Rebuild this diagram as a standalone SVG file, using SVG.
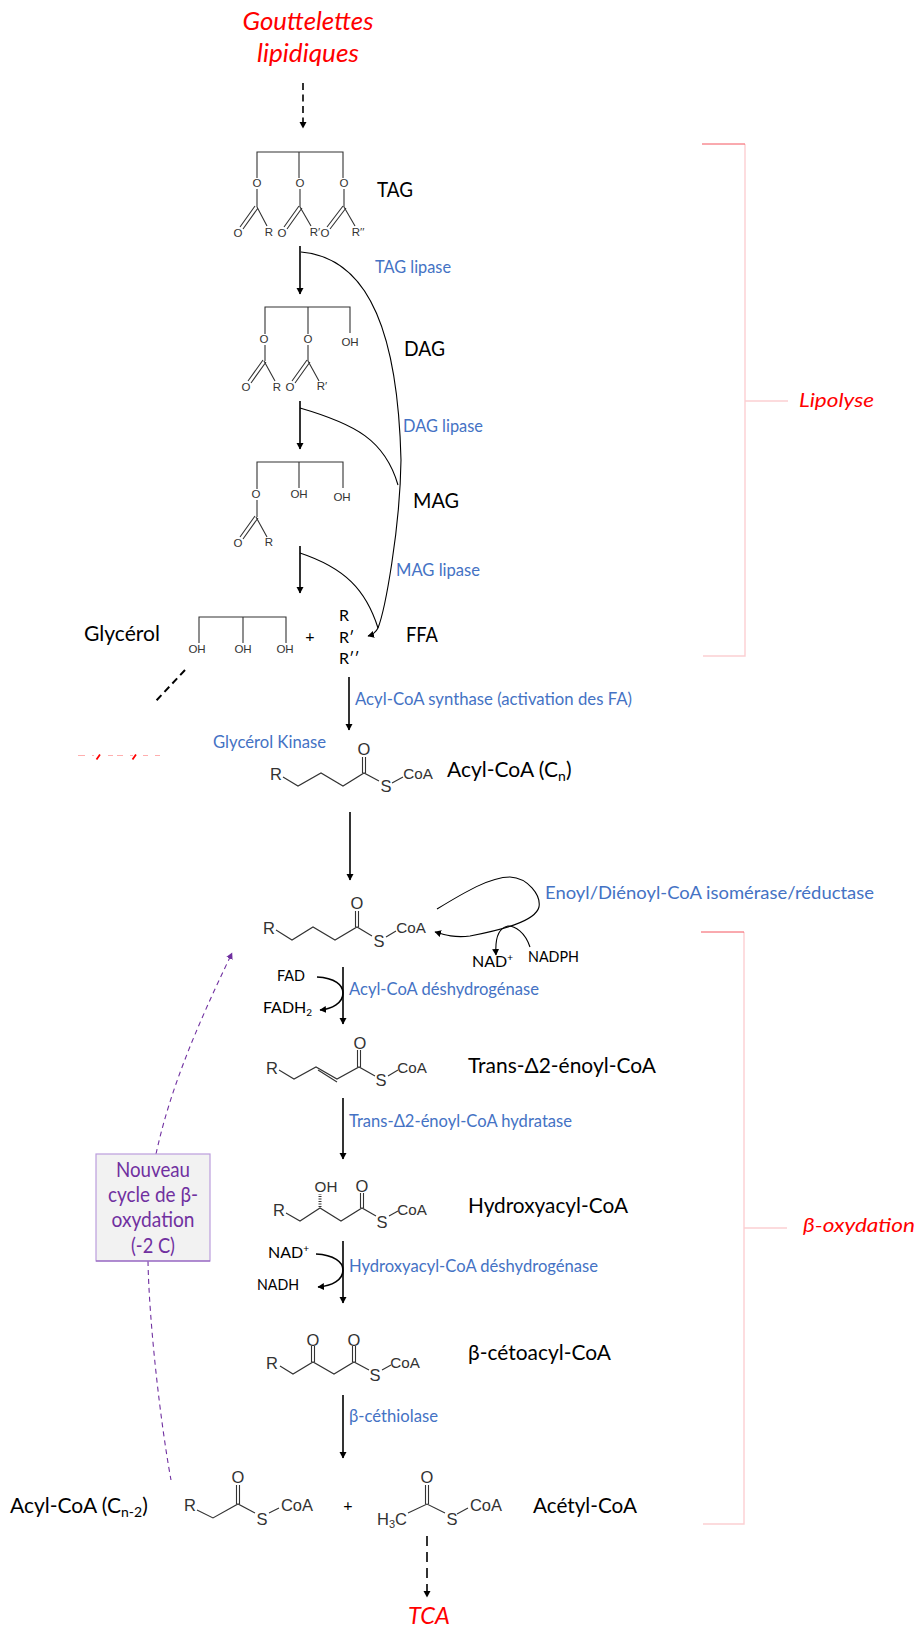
<svg xmlns="http://www.w3.org/2000/svg" width="918" height="1629" viewBox="0 0 918 1629">
<style>
text{font-family:"Lato","Carlito","Liberation Sans",sans-serif}
.lab{font-size:22px;fill:#000}
.enz{font-size:16.5px;fill:#4472c4}
.red{font-style:italic;fill:#f00}
.cof{font-size:16px;fill:#000}
.ch{font-family:"Liberation Sans",Arial,sans-serif;fill:#333;text-anchor:middle}
.s{font-size:11.5px}
.m{font-size:16.5px}
.c{font-size:15.2px}
.l{font-size:16.5px}
.b{fill:none;stroke:#333;stroke-width:1.1}
.bk{fill:none;stroke:#000;stroke-width:1.1}
.a{fill:none;stroke:#000;stroke-width:1.6;marker-end:url(#h)}
.pur{fill:none;stroke:#7030a0;stroke-width:1.1;stroke-dasharray:5 4}
.brk{fill:none;stroke:#fccfd2;stroke-width:1.4}
.brt{fill:none;stroke:#f4555f;stroke-width:1}
.pl{font-size:20.500px;fill:#7030a0;text-anchor:middle}
</style>
<defs>
<marker id="h" markerUnits="userSpaceOnUse" markerWidth="8" markerHeight="8" refX="6" refY="3.500" orient="auto"><path d="M0 0L6.500 3.500L0 7z" fill="#000"/></marker>
<marker id="p" markerUnits="userSpaceOnUse" markerWidth="8" markerHeight="8" refX="6" refY="3.500" orient="auto"><path d="M0 0L6.500 3.500L0 7z" fill="#7030a0"/></marker>
</defs>
<rect width="918" height="1629" fill="#fff"/>

<g id="connectors">
<path class="a" stroke-dasharray="7 4.500" d="M303 83V128"/>
<path class="a" d="M300 246V294"/>
<path class="a" d="M300 401V449"/>
<path class="a" d="M300 546V593"/>
<path class="a" d="M349 677V730"/>
<path class="a" d="M350 812V880"/>
<path class="a" d="M343 967V1024"/>
<path class="a" d="M343 1098V1159"/>
<path class="a" d="M343 1241V1303"/>
<path class="a" d="M343 1395V1458"/>
<path class="a" stroke-width="1.8" stroke-dasharray="10 6" d="M427 1536V1597"/>
<path class="bk" d="M301 252C372 258 398 340 401 460C400 530 385 610 378 628"/>
<path class="bk" d="M300 408C355 424 385 440 398 485"/>
<path class="bk" d="M300 553C345 568 366 590 378 628"/>
<path class="bk" marker-end="url(#h)" d="M378 628Q375 634 368 636"/>
<path class="bk" marker-end="url(#h)" d="M437 909C465 892 490 877 510 877C528 878 541 895 539 907C535 922 500 930 470 936C455 938 445 935 435 932"/>
<path class="bk" marker-end="url(#h)" d="M530 947C525 932 515 926 508 926C498 928 495 940 496 955"/>
<path class="a" stroke-width="2" d="M317 977C335 978 343 985 343 993C343 1003 332 1009 320 1010"/>
<path class="a" stroke-width="2" d="M316 1254C334 1255 343 1262 343 1270C343 1280 332 1286 318 1287"/>
<path fill="none" stroke="#000" stroke-width="2" stroke-dasharray="7 4.500" d="M185 670L155 702"/>
<path class="pur" marker-end="url(#p)" d="M156 1154C170 1090 195 1030 232 953"/>
<path class="pur" d="M148 1261C149 1320 160 1420 171 1480"/>
<path class="brk" d="M745 144V656H703M745 401H788"/>
<path class="brt" d="M702 144H745"/>
<path class="brk" d="M744 932V1524H703M744 1228H787"/>
<path class="brt" d="M701 932H744"/>
</g>

<g id="gouttelettes">
<text class="red" font-size="25" x="308" y="30" text-anchor="middle" textLength="131" lengthAdjust="spacingAndGlyphs">Gouttelettes</text>
<text class="red" font-size="25" x="308" y="62" text-anchor="middle" textLength="102" lengthAdjust="spacingAndGlyphs">lipidiques</text>
</g>

<g id="tag">
<path class="b" d="M257 178V152H343V178M299 152V178M257 189V207M300 189V207M344 189V207M255 206L240 227M258 208L243 229M257 207L267 226M299 206L284 227M302 208L287 229M300 207L311 226M343 206L327 227M346 208L330 229M344 207L355 226"/>
<text class="ch s" x="257" y="187">O</text><text class="ch s" x="300" y="187">O</text><text class="ch s" x="344" y="187">O</text>
<text class="ch s" x="238" y="237">O</text><text class="ch s" x="269" y="236">R</text>
<text class="ch s" x="282" y="237">O</text><text class="ch s" x="315" y="236">R′</text>
<text class="ch s" x="325" y="237">O</text><text class="ch s" x="358" y="236">R′′</text>
<text class="lab" x="377" y="197" textLength="36" lengthAdjust="spacingAndGlyphs">TAG</text>
</g>

<g id="dag">
<path class="b" d="M265 334V307H350V333M308 307V334M265 345V361M308 345V361M263 360L248 381M266 362L251 383M264 361L275 381M307 360L292 381M310 362L295 383M308 361L319 381"/>
<text class="ch s" x="264" y="343">O</text><text class="ch s" x="308" y="343">O</text><text class="ch s" x="350" y="346">OH</text>
<text class="ch s" x="246" y="391">O</text><text class="ch s" x="277" y="391">R</text><text class="ch s" x="290" y="391">O</text><text class="ch s" x="322" y="390">R′</text>
<text class="lab" x="404" y="356" textLength="41" lengthAdjust="spacingAndGlyphs">DAG</text>
</g>

<g id="mag">
<path class="b" d="M257 489V462H343V488M299 462V488M257 500V517M255 516L240 537M258 518L243 539M256 517L267 537"/>
<text class="ch s" x="256" y="498">O</text><text class="ch s" x="299" y="498">OH</text><text class="ch s" x="342" y="501">OH</text>
<text class="ch s" x="238" y="547">O</text><text class="ch s" x="269" y="546">R</text>
<text class="lab" x="413" y="508" textLength="46" lengthAdjust="spacingAndGlyphs">MAG</text>
</g>

<g id="glycerol">
<path class="b" d="M199 643V617H286V643M243 617V643"/>
<text class="ch s" x="197" y="653">OH</text><text class="ch s" x="243" y="653">OH</text><text class="ch s" x="285" y="653">OH</text>
<text class="lab" x="84" y="641" textLength="76" lengthAdjust="spacingAndGlyphs">Glycérol</text>
<text class="cof" x="310" y="642" text-anchor="middle">+</text>
</g>

<g id="ffa">
<text class="cof" x="339" y="621">R</text><text class="cof" x="339" y="643">R′</text><text class="cof" x="339" y="664">R′′</text>
<text class="lab" x="406" y="642" textLength="32" lengthAdjust="spacingAndGlyphs">FFA</text>
</g>

<g id="glycolyse-fragment">
<path fill="none" stroke="#f99" stroke-width="0.8" d="M78 755.500H85M92 755.500H94M108 755.500H113M117 755.500H123M130 755.500H133M143 755.500H148M155 755.500H160"/>
<path fill="none" stroke="#f00" stroke-width="1.800" d="M100 754.500L96.500 759.500M136 754.500L132.500 759.500"/>
</g>

<g id="enzymes">
<text class="enz" x="375" y="273" textLength="76" lengthAdjust="spacingAndGlyphs">TAG lipase</text>
<text class="enz" x="403" y="432" textLength="80" lengthAdjust="spacingAndGlyphs">DAG lipase</text>
<text class="enz" x="396" y="576" textLength="84" lengthAdjust="spacingAndGlyphs">MAG lipase</text>
<text class="enz" x="355" y="705" textLength="277" lengthAdjust="spacingAndGlyphs">Acyl-CoA synthase (activation des FA)</text>
<text class="enz" x="213" y="748" textLength="113" lengthAdjust="spacingAndGlyphs">Glycérol Kinase</text>
<text class="enz" x="545" y="899" textLength="329" lengthAdjust="spacingAndGlyphs">Enoyl/Diénoyl-CoA isomérase/réductase</text>
<text class="enz" x="349" y="995" textLength="190" lengthAdjust="spacingAndGlyphs">Acyl-CoA déshydrogénase</text>
<text class="enz" x="349" y="1127" textLength="223" lengthAdjust="spacingAndGlyphs">Trans-Δ2-énoyl-CoA hydratase</text>
<text class="enz" x="349" y="1272" textLength="249" lengthAdjust="spacingAndGlyphs">Hydroxyacyl-CoA déshydrogénase</text>
<text class="enz" x="349" y="1422" textLength="89" lengthAdjust="spacingAndGlyphs">β-céthiolase</text>
</g>

<g id="acyl-coa-n">
<path class="b" d="M283 777L298 786L321 773L343 786L364 773L379 781M392 783L403 777M362.500 773V757M365.500 773V757"/>
<text class="ch m" x="276" y="780">R</text><text class="ch m" x="364" y="755">O</text><text class="ch m" x="386" y="792">S</text>
<text class="ch c" x="418" y="779">CoA</text>
<text class="lab" x="447" y="777" style="font-size:21px">Acyl-CoA (C<tspan font-size="14" dy="4">n</tspan><tspan dy="-4">)</tspan></text>
</g>

<g id="acyl-coa-cycle">
<path class="b" d="M276 930L292 940L313 927L335 940L357 927L372 936M386 937L396 931M355.500 927V911M358.500 927V911"/>
<text class="ch m" x="269" y="934">R</text><text class="ch m" x="357" y="909">O</text><text class="ch m" x="379" y="947">S</text>
<text class="ch c" x="411" y="933">CoA</text>
</g>

<g id="cofactors">
<text class="cof" x="472" y="967">NAD<tspan font-size="10" dy="-6">+</tspan></text>
<text class="cof" x="528" y="962" textLength="51" lengthAdjust="spacingAndGlyphs">NADPH</text>
<text class="cof" x="277" y="981" textLength="28" lengthAdjust="spacingAndGlyphs">FAD</text>
<text class="cof" x="263" y="1013">FADH<tspan font-size="10" dy="3">2</tspan></text>
<text class="cof" x="268" y="1258">NAD<tspan font-size="10" dy="-6">+</tspan></text>
<text class="cof" x="257" y="1290" textLength="42" lengthAdjust="spacingAndGlyphs">NADH</text>
</g>

<g id="trans-enoyl-coa">
<path class="b" d="M279 1070L294 1079L316 1067L337 1079L359 1067L375 1076M388 1076L398 1070M318 1070L337 1082M357.500 1067V1050M360.500 1067V1050"/>
<text class="ch m" x="272" y="1074">R</text><text class="ch m" x="360" y="1049">O</text><text class="ch m" x="381" y="1086">S</text>
<text class="ch c" x="412" y="1073">CoA</text>
<text class="lab" x="468" y="1073" textLength="188" lengthAdjust="spacingAndGlyphs">Trans-Δ2-énoyl-CoA</text>
</g>

<g id="hydroxyacyl-coa">
<path class="b" d="M286 1213L300 1221L320 1208L341 1221L362 1208L376 1216M389 1216L398 1211M360.500 1208V1193M363.500 1208V1193"/>
<path fill="none" stroke="#333" stroke-width="3" stroke-dasharray="1 1.500" d="M320 1207V1194"/>
<text class="ch m" x="279" y="1216">R</text><text class="ch m" x="362" y="1192">O</text><text class="ch c" x="326" y="1192">OH</text><text class="ch m" x="382" y="1228">S</text>
<text class="ch c" x="412" y="1215">CoA</text>
<text class="lab" x="468" y="1213" textLength="160" lengthAdjust="spacingAndGlyphs">Hydroxyacyl-CoA</text>
</g>

<g id="cetoacyl-coa">
<path class="b" d="M280 1366L293 1374L313 1362L334 1374L354 1362L369 1370M382 1370L391 1365M311.500 1362V1346M314.500 1362V1346M352.500 1362V1346M355.500 1362V1346"/>
<text class="ch m" x="272" y="1369">R</text><text class="ch m" x="313" y="1346">O</text><text class="ch m" x="354" y="1346">O</text><text class="ch m" x="375" y="1381">S</text>
<text class="ch c" x="405" y="1368">CoA</text>
<text class="lab" x="468" y="1360" textLength="143" lengthAdjust="spacingAndGlyphs">β-cétoacyl-CoA</text>
</g>

<g id="acyl-coa-n2">
<text class="lab" x="10" y="1513" style="font-size:21px">Acyl-CoA (C<tspan font-size="14" dy="4">n-2</tspan><tspan dy="-4">)</tspan></text>
<path class="b" d="M197 1510L213 1518L238 1504L255 1513M269 1513L279 1508M236.500 1504V1485M239.500 1504V1485"/>
<text class="ch l" x="190" y="1511">R</text><text class="ch l" x="238" y="1483">O</text><text class="ch l" x="262" y="1525">S</text>
<text class="ch l" x="297" y="1511">CoA</text>
<text class="cof" x="348" y="1511" text-anchor="middle">+</text>
</g>

<g id="acetyl-coa">
<path class="b" d="M408 1513L427 1504L445 1513M457 1514L468 1508M425.500 1504V1485M428.500 1504V1485"/>
<text class="ch l" x="392" y="1525">H<tspan font-size="11" dy="3">3</tspan><tspan dy="-3">C</tspan></text>
<text class="ch l" x="427" y="1483">O</text><text class="ch l" x="452" y="1525">S</text>
<text class="ch l" x="486" y="1511">CoA</text>
<text class="lab" x="533" y="1513" textLength="104" lengthAdjust="spacingAndGlyphs">Acétyl-CoA</text>
</g>

<g id="tca"><text class="red" font-size="24" x="408" y="1624" textLength="42" lengthAdjust="spacingAndGlyphs">TCA</text></g>

<g id="nouveau-cycle">
<rect x="96" y="1154" width="114" height="107" fill="#f2f2f2" stroke="#bb9ddd" stroke-width="1.2"/>
<path d="M96 1261H210" stroke="#8a55b8" stroke-width="1.2"/>
<text class="pl" x="153" y="1177" textLength="74" lengthAdjust="spacingAndGlyphs">Nouveau</text>
<text class="pl" x="153" y="1202" textLength="90" lengthAdjust="spacingAndGlyphs">cycle de β-</text>
<text class="pl" x="153" y="1227" textLength="83" lengthAdjust="spacingAndGlyphs">oxydation</text>
<text class="pl" x="153" y="1253" textLength="44" lengthAdjust="spacingAndGlyphs">(-2 C)</text>
</g>

<g id="lipolyse"><text class="red" font-size="20" x="799" y="407" textLength="75" lengthAdjust="spacingAndGlyphs">Lipolyse</text></g>
<g id="beta-oxydation"><text class="red" font-size="20" x="803" y="1232" textLength="112" lengthAdjust="spacingAndGlyphs">β-oxydation</text></g>
</svg>
